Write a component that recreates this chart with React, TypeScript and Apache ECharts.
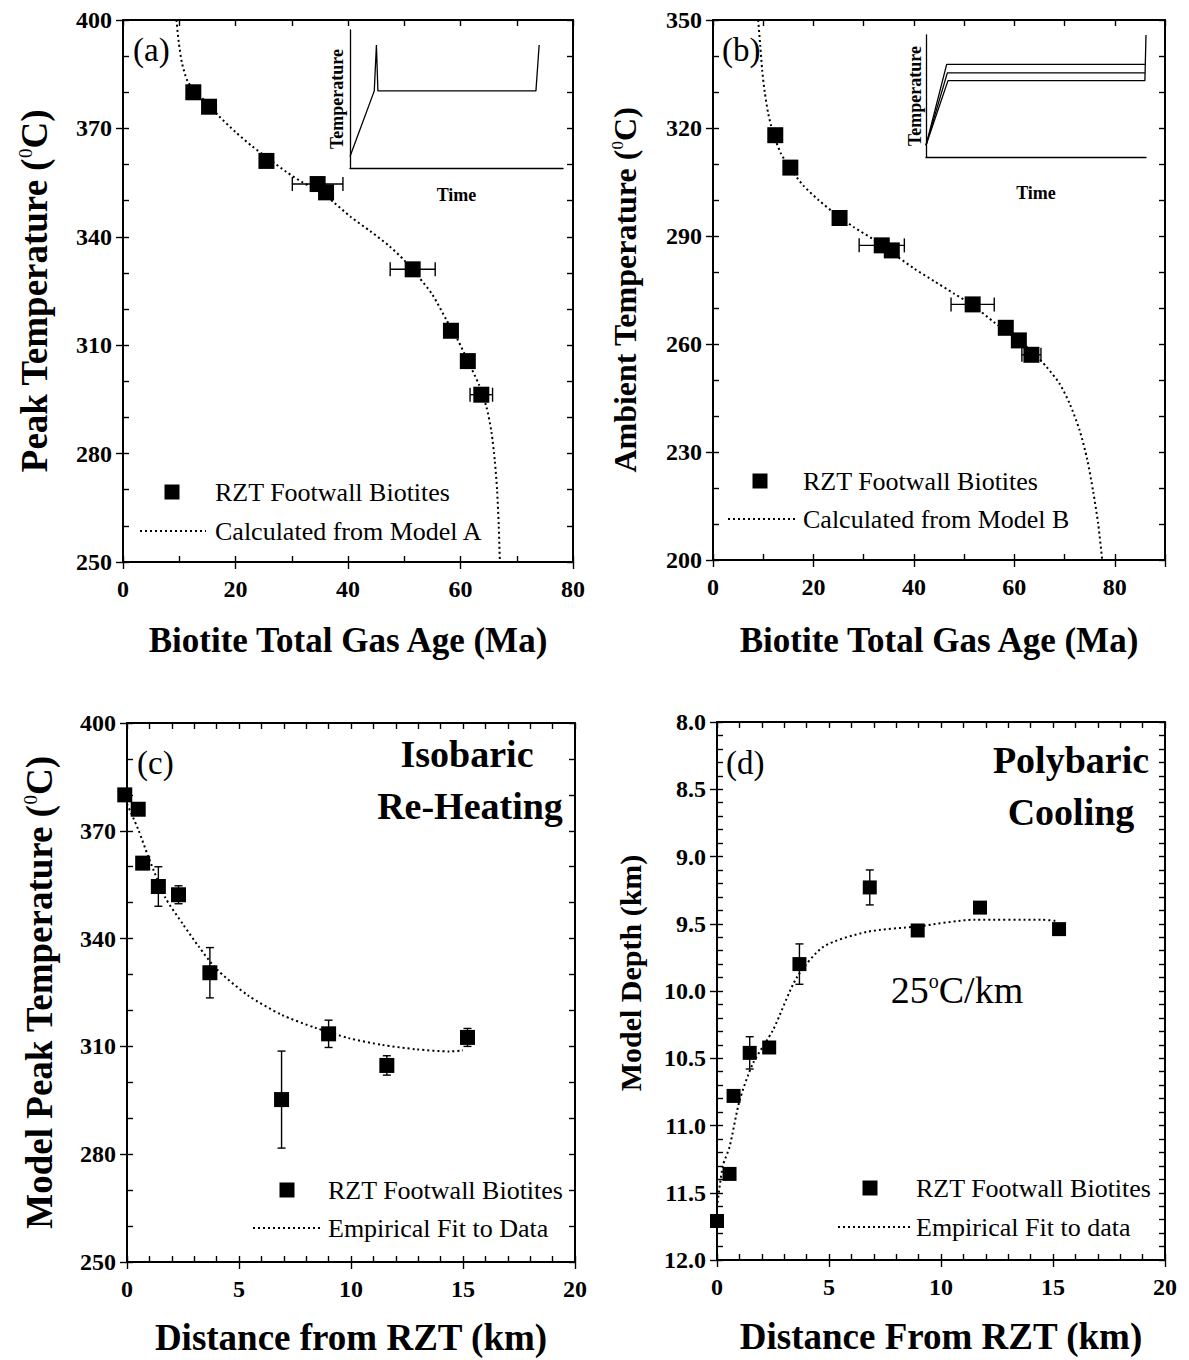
import React, { useEffect, useRef } from "react";
import * as echarts from "echarts";

const FONT = "'Liberation Serif', 'Times New Roman', Times, serif";
const INK = "#000";

// ---- (a) Model A: peak temperature vs. biotite total gas age ----
const ageA = [12.5, 15.3, 25.5, 34.6, 36.1, 51.5, 58.3, 61.3, 63.7];
const peakTempA = [380, 376, 361, 354.6, 352.3, 331, 314, 305.6, 296.3];
const ageErrA = [0, 0, 0, 4.5, 0, 4, 0, 0, 2];
const modelAAge = [9.5, 9.9, 10.5, 11.5, 13, 15, 17, 20, 23, 26, 29, 32, 35, 37.5, 40.5, 44, 47.3, 50, 52.5, 55, 57.5, 59.5, 61.5, 63.3, 64.6, 65.5, 66.1, 66.5, 66.8, 67];
const modelATemp = [400, 394, 388, 383, 380, 377, 373.5, 369, 365, 361.5, 358, 355, 352.5, 349.5, 345.5, 341.5, 337.5, 333.5, 329, 324, 317, 311.5, 305, 299, 293, 286, 278, 270, 260, 250];

// ---- (b) Model B: ambient temperature vs. biotite total gas age ----
const ageB = [12.4, 15.4, 25.2, 33.6, 35.6, 51.7, 58.3, 60.9, 63.4];
const ambientTempB = [318, 309, 295, 287.4, 286, 271, 264.5, 261, 257];
const ageErrB = [0, 0, 0, 4.5, 0, 4.3, 0, 0, 1.9];
const modelBAge = [9, 9.4, 9.8, 10.3, 11, 12, 13.5, 15.5, 18, 21, 24.5, 28, 32, 36, 40, 44, 48, 52, 56, 60, 63.5, 66.5, 69, 71, 73, 74.5, 75.7, 76.7, 77.5];
const modelBTemp = [350, 343, 336, 330, 324, 318.5, 313, 308.5, 304, 300, 296, 292.5, 289, 285, 281, 277.5, 274, 270.5, 266, 262, 258, 253.5, 249, 243.5, 236, 228, 219, 210, 200];

// ---- (c) Isobaric re-heating: model peak temperature vs. distance ----
const distC = [-0.1, 0.5, 0.7, 1.4, 2.3, 3.7, 6.9, 9.0, 11.6, 15.2];
const peakTempC = [380, 376, 361, 354.5, 352.2, 330.5, 295.2, 313.5, 304.7, 312.5];
const tempErrC = [0, 0, 0, 5.5, 2.5, 7, 13.5, 3.8, 2.7, 2.5];
const fitCDist = [0, 0.5, 1, 1.7, 2.5, 3.2, 4, 5.4, 6.9, 8.4, 9.9, 11.4, 12.9, 14.4, 15];
const fitCTemp = [377.5, 370.4, 362, 351.5, 344, 337.8, 331.5, 324.2, 318.8, 315.2, 312.3, 310.4, 309.2, 308.6, 308.9];

// ---- (d) Polybaric cooling: model depth vs. distance ----
const distD = [0, 0.56, 0.74, 1.46, 2.33, 3.68, 6.82, 8.96, 11.74, 15.27];
const depthD = [11.71, 11.36, 10.78, 10.46, 10.42, 9.8, 9.23, 9.55, 9.38, 9.54];
const depthErrD = [0, 0, 0, 0.12, 0, 0.15, 0.13, 0, 0, 0];
const fitDDist = [0, 0.26, 0.56, 1, 1.6, 2.5, 3.56, 4.76, 6.7, 8.96, 11.5, 14.5, 15.2];
const fitDDepth = [11.61, 11.3, 11.16, 10.82, 10.54, 10.29, 9.9, 9.67, 9.56, 9.52, 9.47, 9.47, 9.48];

// ---- inset schematics (normalised time / temperature) ----
const insetATime = [0, 11.4, 12.4, 13.1, 87.3, 88.8];
const insetATemp = [8.4, 55.9, 89.1, 55.9, 55.9, 89.1];
const insetBTimeHigh = [0, 9.4, 99.5];
const insetBTempHigh = [9.6, 75.9, 75.9];
const insetBTimeMid = [0, 9.7, 99.5];
const insetBTempMid = [9.6, 69, 69];
const insetBTimeLow = [0, 10, 99.5, 100];
const insetBTempLow = [9.6, 62.6, 62.6, 100];

const zip = (xs: number[], ys: number[]) => xs.map((x, i) => [x, ys[i]]);

const axisLineStyle = { color: INK, width: 2 };
const tickStyle = { color: INK, width: 1.4 };
const tickLabel = { color: INK, fontFamily: FONT, fontWeight: "bold" as const, fontSize: 24 };

const nameStyle = (size: number, padding?: number[]) => ({
  color: INK,
  fontFamily: FONT,
  fontWeight: "bold" as const,
  fontSize: size,
  padding,
  rich: {
    sup: { fontFamily: FONT, fontSize: Math.round(size * 0.52), color: INK, verticalAlign: "top" as const, fontWeight: "normal" as const },
  },
});

type AxisSpec = {
  min: number;
  max: number;
  major: number;
  minor: number;
  name: string;
  nameGap: number;
  nameSize: number;
  namePadding?: number[];
  inverse?: boolean;
  fmt?: (v: number) => string;
};
type PanelSpec = { left: number; top: number; width: number; height: number; x: AxisSpec; y: AxisSpec };

function buildOption() {
  const grid: any[] = [];
  const xAxis: any[] = [];
  const yAxis: any[] = [];
  const series: any[] = [];
  const graphic: any[] = [];

  function addPanel(p: PanelSpec) {
    const gi = grid.length;
    grid.push({ left: p.left, top: p.top, width: p.width, height: p.height, containLabel: false });
    const xi = xAxis.length;
    const yi = yAxis.length;
    const common = { gridIndex: gi, type: "value", splitLine: { show: false } };
    // bottom: labelled major ticks, inside minor ticks, and the mirrored top edge
    xAxis.push({
      ...common, position: "bottom", min: p.x.min, max: p.x.max, interval: p.x.major,
      axisLine: { show: true, onZero: false, lineStyle: axisLineStyle },
      axisTick: { show: true, inside: false, length: 7, lineStyle: tickStyle },
      axisLabel: { ...tickLabel, margin: 15, formatter: p.x.fmt },
      name: p.x.name, nameLocation: "middle", nameGap: p.x.nameGap, nameTextStyle: nameStyle(p.x.nameSize, p.x.namePadding),
    });
    xAxis.push({
      ...common, position: "bottom", min: p.x.min, max: p.x.max, interval: p.x.minor,
      axisLine: { show: false }, axisTick: { show: true, inside: true, length: 6, lineStyle: tickStyle },
      axisLabel: { show: false },
    });
    xAxis.push({
      ...common, position: "top", min: p.x.min, max: p.x.max, interval: p.x.minor,
      axisLine: { show: true, onZero: false, lineStyle: axisLineStyle },
      axisTick: { show: true, inside: true, length: 6, lineStyle: tickStyle }, axisLabel: { show: false },
    });
    yAxis.push({
      ...common, position: "left", min: p.y.min, max: p.y.max, interval: p.y.major, inverse: !!p.y.inverse,
      axisLine: { show: true, onZero: false, lineStyle: axisLineStyle },
      axisTick: { show: true, inside: false, length: 7, lineStyle: tickStyle },
      axisLabel: { ...tickLabel, margin: 11, formatter: p.y.fmt },
      name: p.y.name, nameLocation: "middle", nameRotate: 90, nameGap: p.y.nameGap, nameTextStyle: nameStyle(p.y.nameSize, p.y.namePadding),
    });
    yAxis.push({
      ...common, position: "left", min: p.y.min, max: p.y.max, interval: p.y.minor, inverse: !!p.y.inverse,
      axisLine: { show: false }, axisTick: { show: true, inside: true, length: 6, lineStyle: tickStyle },
      axisLabel: { show: false },
    });
    yAxis.push({
      ...common, position: "right", min: p.y.min, max: p.y.max, interval: p.y.minor, inverse: !!p.y.inverse,
      axisLine: { show: true, onZero: false, lineStyle: axisLineStyle },
      axisTick: { show: true, inside: true, length: 6, lineStyle: tickStyle }, axisLabel: { show: false },
    });
    return { xi, yi };
  }

  function fitLine(ax: { xi: number; yi: number }, xs: number[], ys: number[]) {
    series.push({
      type: "line", xAxisIndex: ax.xi, yAxisIndex: ax.yi, data: zip(xs, ys),
      symbol: "none", showSymbol: false, smooth: 0.25, clip: false, z: 2,
      lineStyle: { color: INK, width: 2, type: [2, 3] },
    });
  }

  function points(ax: { xi: number; yi: number }, xs: number[], ys: number[], xErr: number[] | null, yErr: number[] | null, size: number) {
    series.push({
      type: "custom", xAxisIndex: ax.xi, yAxisIndex: ax.yi, clip: false, z: 3,
      encode: { x: 0, y: 1 },
      data: xs.map((x, i) => [x, ys[i], xErr ? xErr[i] : 0, yErr ? yErr[i] : 0]),
      renderItem: (_params: any, api: any) => {
        const x = api.value(0), y = api.value(1), ex = api.value(2), ey = api.value(3);
        const st = { stroke: INK, lineWidth: 1.4, fill: null };
        const ch: any[] = [];
        const seg = (x1: number, y1: number, x2: number, y2: number) =>
          ch.push({ type: "line", shape: { x1, y1, x2, y2 }, style: st });
        if (ex > 0) {
          const a = api.coord([x - ex, y]);
          const b = api.coord([x + ex, y]);
          seg(a[0], a[1], b[0], b[1]);
          seg(a[0], a[1] - 7, a[0], a[1] + 7);
          seg(b[0], b[1] - 7, b[0], b[1] + 7);
        }
        if (ey > 0) {
          const a = api.coord([x, y - ey]);
          const b = api.coord([x, y + ey]);
          seg(a[0], a[1], b[0], b[1]);
          seg(a[0] - 4, a[1], a[0] + 4, a[1]);
          seg(b[0] - 4, b[1], b[0] + 4, b[1]);
        }
        return { type: "group", children: ch };
      },
    });
    series.push({
      type: "scatter", xAxisIndex: ax.xi, yAxisIndex: ax.yi, data: zip(xs, ys),
      symbol: "rect", symbolSize: size, itemStyle: { color: INK, opacity: 1 }, clip: false, z: 4,
    });
  }

  function inset(box: { left: number; top: number; width: number; height: number; nameGapX: number; nameGapY: number }, lines: [number[], number[]][]) {
    const gi = grid.length;
    grid.push({ left: box.left, top: box.top, width: box.width, height: box.height, containLabel: false });
    const xi = xAxis.length;
    const yi = yAxis.length;
    const insetName = { color: INK, fontFamily: FONT, fontWeight: "bold" as const, fontSize: 18 };
    xAxis.push({
      gridIndex: gi, type: "value", min: 0, max: 100, position: "bottom",
      axisLine: { show: true, onZero: false, lineStyle: { color: INK, width: 1.3 } },
      axisTick: { show: false }, axisLabel: { show: false }, splitLine: { show: false },
      name: "Time", nameLocation: "middle", nameGap: box.nameGapX, nameTextStyle: insetName,
    });
    yAxis.push({
      gridIndex: gi, type: "value", min: 0, max: 100, position: "left",
      axisLine: { show: true, onZero: false, lineStyle: { color: INK, width: 1.3 } },
      axisTick: { show: false }, axisLabel: { show: false }, splitLine: { show: false },
      name: "Temperature", nameLocation: "middle", nameRotate: 90, nameGap: box.nameGapY, nameTextStyle: insetName,
    });
    lines.forEach(([t, v]) =>
      series.push({
        type: "line", xAxisIndex: xi, yAxisIndex: yi, data: zip(t, v), symbol: "none",
        showSymbol: false, clip: false, lineStyle: { color: INK, width: 1.3 }, z: 2,
      })
    );
  }

  const text = (x: number, y: number, s: string, size: number, weight = "normal", align = "left", rich?: any) => ({
    type: "text", x, y, z: 10,
    style: {
      text: s, x: 0, y: 0, fill: INK, fontFamily: FONT, fontSize: size, fontWeight: weight,
      textAlign: align, align, textVerticalAlign: "middle", verticalAlign: "middle", rich,
    },
  });
  const legend = (sqX: number, sqY: number, textX: number, label1: string, lineX1: number, lineX2: number, lineY: number, label2: string) => {
    graphic.push({ type: "rect", z: 10, shape: { x: sqX - 7.5, y: sqY - 7.5, width: 15, height: 15 }, style: { fill: INK } });
    graphic.push(text(textX, sqY, label1, 26));
    graphic.push({ type: "line", z: 10, shape: { x1: lineX1, y1: lineY, x2: lineX2, y2: lineY }, style: { stroke: INK, lineWidth: 2, lineDash: [2, 3] } });
    graphic.push(text(textX, lineY, label2, 26));
  };

  // (a)
  const a = addPanel({
    left: 123, top: 20, width: 450, height: 542,
    x: { min: 0, max: 80, major: 20, minor: 10, name: "Biotite Total Gas Age (Ma)", nameGap: 61, nameSize: 35 },
    y: { min: 250, max: 400, major: 30, minor: 10, name: "Peak Temperature ({sup|0}C)", nameGap: 70, nameSize: 37 },
  });
  fitLine(a, modelAAge, modelATemp);
  points(a, ageA, peakTempA, ageErrA, null, 16);
  inset({ left: 350, top: 30, width: 213, height: 138, nameGapX: 18, nameGapY: 4 }, [[insetATime, insetATemp]]);
  graphic.push(text(133, 50, "(a)", 33));
  legend(172, 492, 215, "RZT Footwall Biotites", 140, 206, 531, "Calculated from Model A");

  // (b)
  const b = addPanel({
    left: 713, top: 20, width: 452, height: 540,
    x: { min: 0, max: 90, major: 20, minor: 10, name: "Biotite Total Gas Age (Ma)", nameGap: 63, nameSize: 35, fmt: (v: number) => (v > 80 ? "" : String(v)) },
    y: { min: 200, max: 350, major: 30, minor: 10, name: "Ambient Temperature ({sup|0}C)", nameGap: 72, nameSize: 32 },
  });
  fitLine(b, modelBAge, modelBTemp);
  points(b, ageB, ambientTempB, ageErrB, null, 16);
  inset({ left: 926, top: 35, width: 220, height: 122, nameGapX: 27, nameGapY: 2 }, [
    [insetBTimeHigh, insetBTempHigh],
    [insetBTimeMid, insetBTempMid],
    [insetBTimeLow, insetBTempLow],
  ]);
  graphic.push(text(722, 50, "(b)", 33));
  legend(760, 481, 803, "RZT Footwall Biotites", 728, 798, 519, "Calculated from Model B");

  // (c)
  const c = addPanel({
    left: 127, top: 723, width: 448, height: 539,
    x: { min: 0, max: 20, major: 5, minor: 1, name: "Distance from RZT (km)", nameGap: 57, nameSize: 37 },
    y: { min: 250, max: 400, major: 30, minor: 10, name: "Model Peak Temperature ({sup|0}C)", nameGap: 69, nameSize: 37 },
  });
  fitLine(c, fitCDist, fitCTemp);
  points(c, distC, peakTempC, null, tempErrC, 15);
  graphic.push(text(137, 763, "(c)", 33));
  graphic.push(text(467, 754, "Isobaric", 38, "bold", "center"));
  graphic.push(text(470, 806, "Re-Heating", 38, "bold", "center"));
  legend(287, 1190, 328, "RZT Footwall Biotites", 253, 320, 1228, "Empirical Fit to Data");

  // (d)
  const d = addPanel({
    left: 717, top: 722, width: 448, height: 538,
    x: { min: 0, max: 20, major: 5, minor: 1, name: "Distance From RZT (km)", nameGap: 58, nameSize: 37 },
    y: {
      min: 8, max: 12, major: 0.5, minor: 0.1, inverse: true, name: "Model Depth (km)", nameGap: 72, nameSize: 30,
      namePadding: [0, 0, 0, 36], fmt: (v: number) => v.toFixed(1),
    },
  });
  fitLine(d, fitDDist, fitDDepth);
  points(d, distD, depthD, null, depthErrD, 14);
  graphic.push(text(726, 763, "(d)", 33));
  graphic.push(text(1071, 760, "Polybaric", 38, "bold", "center"));
  graphic.push(text(1071, 812, "Cooling", 38, "bold", "center"));
  graphic.push(
    text(957, 990, "25{sup|o}C/km", 38, "normal", "center", {
      sup: { fontFamily: FONT, fontSize: 20, fill: INK, verticalAlign: "top" },
    })
  );
  legend(870, 1188, 916, "RZT Footwall Biotites", 838, 910, 1227, "Empirical Fit to data");

  return {
    animation: false,
    backgroundColor: "#fff",
    textStyle: { fontFamily: FONT, color: INK },
    grid,
    xAxis,
    yAxis,
    series,
    graphic,
  };
}

export default function App() {
  const ref = useRef<HTMLDivElement>(null);
  useEffect(() => {
    if (!ref.current) return;
    const chart = echarts.init(ref.current, undefined, { renderer: "svg" });
    chart.setOption(buildOption() as any);
    return () => chart.dispose();
  }, []);
  return (
    <div
      ref={ref}
      style={{ position: "absolute", left: 0, top: 0, width: 1189, height: 1360, background: "#fff" }}
    />
  );
}
